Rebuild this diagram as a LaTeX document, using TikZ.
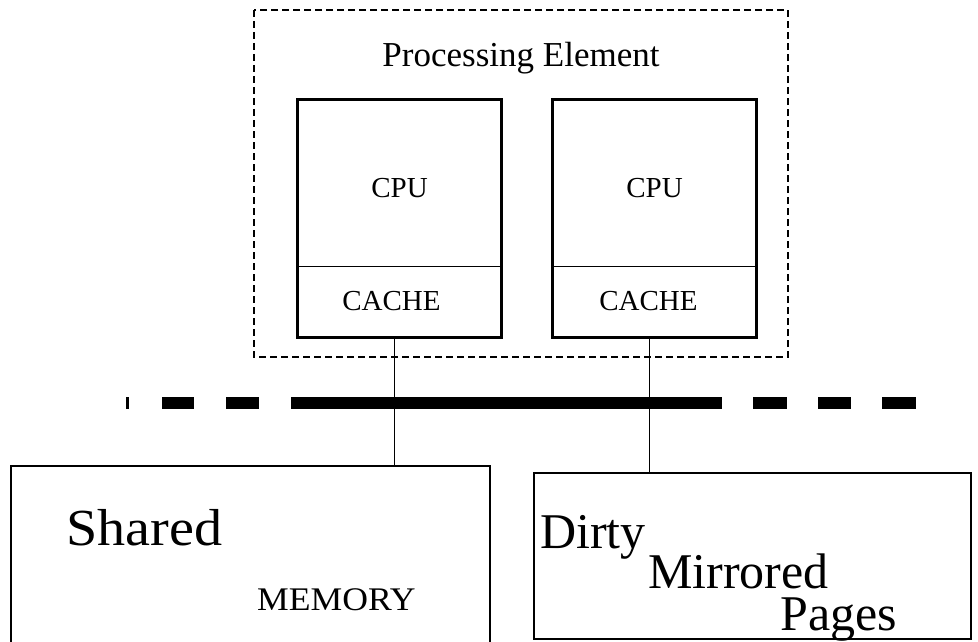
\documentclass[tikz,border=0pt]{standalone}
\usepackage{fontspec}
\setmainfont{Liberation Serif}
\usetikzlibrary{fit}

\tikzset{
    unitbox/.style={draw, line width=1pt, minimum width=203pt, inner sep=0pt},
    frame/.style={draw, line width=2.6pt, inner sep=0pt},
    membox/.style={draw, line width=2.4pt, inner sep=0pt},
    small/.style={font=\fontsize{29}{29}\selectfont},
    big/.style={font=\fontsize{52}{52}\selectfont, anchor=base west, inner sep=0pt},
    mid/.style={font=\fontsize{50}{50}\selectfont, anchor=base west, inner sep=0pt},
}

\begin{document}
\begin{tikzpicture}[x=1pt, y=-1pt]
        \useasboundingbox (0,0) rectangle (978,642);

        % processing element
        \draw [dash pattern=on 7pt off 4pt, line width=1.2pt] (254,10) rectangle (788,357);
        \node[font=\fontsize{35}{35}\selectfont] (pe) at (521, 58) {Processing Element};

        \node[unitbox, minimum height=166pt] (cpuA) at (399.5, 183) {};
        \node[unitbox, minimum height=71pt] (cacheA) at (399.5, 301.5) {};
        \node[unitbox, minimum height=166pt] (cpuB) at (654.5, 183) {};
        \node[unitbox, minimum height=71pt] (cacheB) at (654.5, 301.5) {};
        \node[frame, fit=(cpuA)(cacheA)] (unitA) {};
        \node[frame, fit=(cpuB)(cacheB)] (unitB) {};

        \node[small] at ([yshift=-5pt]cpuA.center) {CPU};
        \node[small] at ([yshift=-5pt]cpuB.center) {CPU};
        \node[small] at ([xshift=-8pt]cacheA.center) {CACHE};
        \node[small] at ([xshift=-6pt]cacheB.center) {CACHE};

        % bus
        \foreach \a/\b in {126/129, 162/194, 226/259, 291/722, 753/787, 818/851, 882/916}
            \draw [line width=12pt] (\a, 403) -- (\b, 403);

        % memories
        \node[membox, minimum width=479pt, minimum height=200pt, anchor=north west] (shared) at (10, 465) {};
        \node[membox, minimum width=437pt, minimum height=166pt, anchor=north west] (dirty) at (533, 472) {};

        \node[big, xscale=1.08] at (66, 545) {Shared};
        \node[font=\fontsize{33}{33}\selectfont, anchor=base west, inner sep=0pt, xscale=1.08] at (257, 610) {MEMORY};
        \node[mid] at (540, 548) {Dirty};
        \node[mid] at (648, 588) {Mirrored};
        \node[mid] at (780, 630) {Pages};

        \draw [line width=1.3pt] ([xshift=-5pt]unitA.south) -- ([xshift=-5pt]unitA.south |- shared.north);
        \draw [line width=1.3pt] ([xshift=-5pt]unitB.south) -- ([xshift=-5pt]unitB.south |- dirty.north);
    \end{tikzpicture}
\end{document}
